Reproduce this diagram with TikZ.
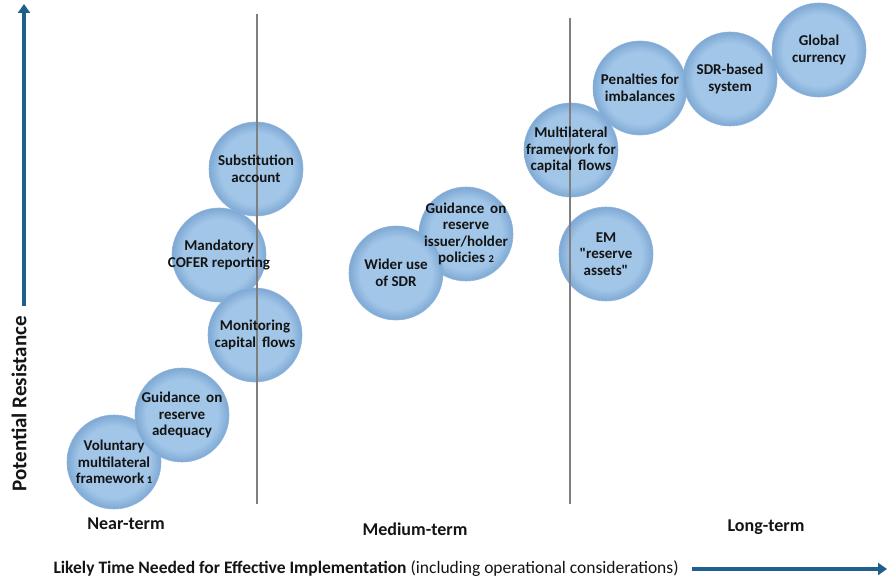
\documentclass[tikz,border=0pt]{standalone}
\usepackage{fontspec}
\setmainfont{Carlito}[Ligatures=TeXOff]
\usepackage{tikz}
\usetikzlibrary{arrows.meta,positioning,calc}
\definecolor{bubbleIn}{HTML}{A2C6E8}
\definecolor{bubbleOut}{HTML}{7EA9D4}
\definecolor{bubbleRim}{HTML}{8DB3DA}
\definecolor{axisBlue}{HTML}{1F5F8E}
\definecolor{dividerGray}{HTML}{7F7F7F}
\definecolor{labelInk}{HTML}{141414}
\pgfdeclareradialshading{bubbleShade}{\pgfpoint{0bp}{0bp}}{%
  color(0bp)=(bubbleIn); color(19bp)=(bubbleIn);
  color(25bp)=(bubbleOut); color(50bp)=(bubbleOut)}
\tikzset{
  bubble/.style={
    circle,
    minimum size=94pt,
    inner sep=0pt,
    shading=bubbleShade,
    draw=bubbleRim,
    line width=0.6pt
  },
  bubText/.style={
    font=\fontsize{15}{16.5}\selectfont\bfseries,
    text=labelInk,
    align=center,
    inner sep=0pt
  },
  termLabel/.style={font=\fontsize{18}{20}\selectfont\bfseries, text=labelInk},
  divider/.style={draw=dividerGray, line width=1.4pt},
  axisArrow/.style={draw=axisBlue, line width=4.5pt,
    -{Triangle[width=12pt,length=9pt]}}
}
\newcommand{\fnmark}[1]{{\fontsize{10.5}{10.5}\selectfont #1}}

\begin{document}
\begin{tikzpicture}[x=1pt, y=-1pt]
    \useasboundingbox (0,0) rectangle (891,580);

    % near-term
    \node[bubble] (vol) at (114,462) {};
    \node[bubble] (adeq) at (182,415) {};
    \node[bubble] (subst) at (256,169) {};
    \node[bubble] (cofer) at (219,255) {};
    \node[bubble] (moni) at (255,335) {};

    % medium-term
    \node[bubble] (issuer) at (466,234) {};
    \node[bubble] (wider) at (396,273) {};

    % long-term
    \node[bubble] (glob) at (819,50) {};
    \node[bubble] (penal) at (640,88) {};
    \node[bubble] (sdrsys) at (730,79) {};
    \node[bubble] (mlcap) at (571,150) {};
    \node[bubble] (emra) at (606,254) {};

    \coordinate (nearTop) at (257,14);
    \coordinate (nearBot) at (257,504);
    \coordinate (longTop) at (570,18);
    \coordinate (longBot) at (570,504);
    \draw[divider] (nearTop) -- (nearBot);
    \draw[divider] (longTop) -- (longBot);

    \node[bubText] at (vol) {Voluntary\\multilateral\\framework\,\fnmark{1}};
    \node[bubText] at (adeq) {Guidance\, on\\reserve\\adequacy};
    \node[bubText] at (subst) {Substitution\\account};
    \node[bubText] at (cofer) {Mandatory\\COFER reporting};
    \node[bubText] at (moni) {Monitoring\\capital\, flows};
    \node[bubText] at (issuer) {Guidance\, on\\reserve\\issuer/holder\\policies \fnmark{2}};
    \node[bubText] at (wider) {Wider use\\of SDR};
    \node[bubText] at (glob) {Global\\currency};
    \node[bubText] at (penal) {Penalties for\\imbalances};
    \node[bubText] at (sdrsys) {SDR-based\\system};
    \node[bubText] at (mlcap) {Multilateral\\framework for\\capital\, flows};
    \node[bubText] at (emra) {EM\\"reserve\\assets"};

    \node[termLabel] (near) at (126,524) {Near-term};
    \node[termLabel] (medium) at (415,529) {Medium-term};
    \node[termLabel] (long) at (766,527) {Long-term};

    % axes
    \coordinate (resBase) at (24,306);
    \coordinate (resTip) at (24,4);
    \draw[axisArrow] (resBase) -- (resTip);
    \node[termLabel, font=\fontsize{21}{23}\selectfont\bfseries, rotate=90]
      (resist) at (19,404) {Potential Resistance};

    \node[font=\fontsize{17.5}{20}\selectfont, text=labelInk, anchor=west]
      (timeAxis) at (50,569)
      {\textbf{Likely Time Needed for Effective Implementation} (including operational considerations)};
    \coordinate (timeTip) at (887,569);
    \draw[axisArrow] (692,569) -- (timeTip);
\end{tikzpicture}
\end{document}
